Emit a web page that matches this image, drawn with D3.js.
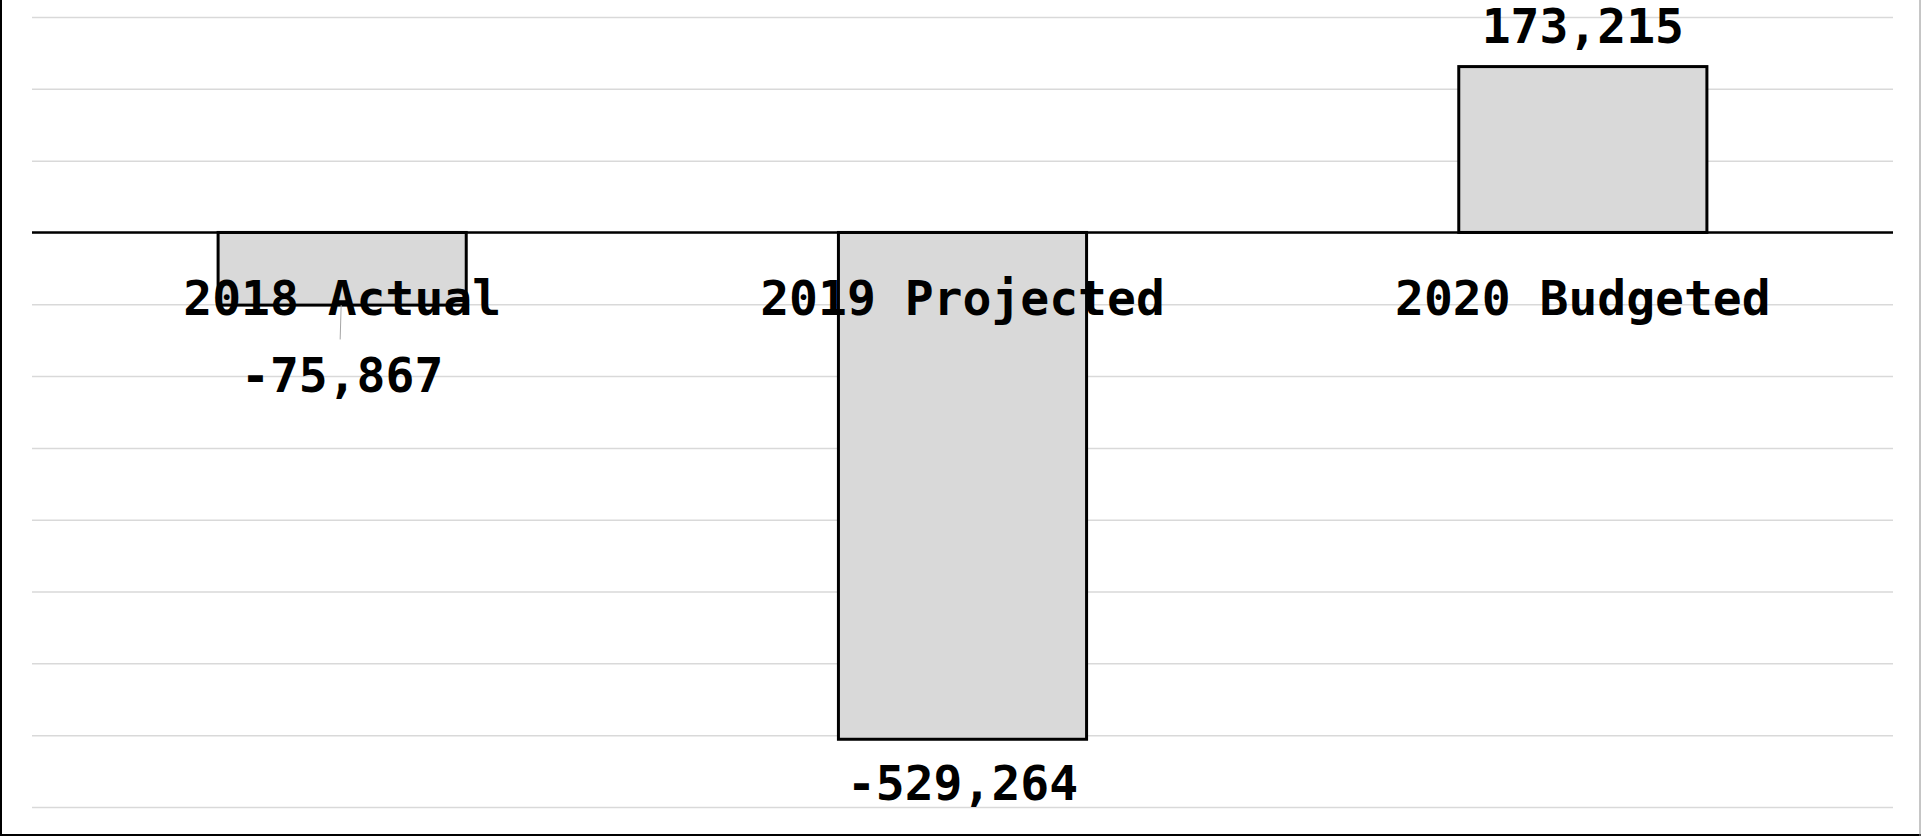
<!DOCTYPE html>
<html>
<head>
<meta charset="utf-8">
<script src="https://cdn.jsdelivr.net/npm/d3@7"></script>
<style>
    html, body { margin: 0; padding: 0; background: #fff; overflow: hidden; }
    svg { display: block; }
    .bar-label, .cat-label { font-family: "DejaVu Sans Mono", monospace; font-weight: bold; font-size: 48px; fill: #000; }
</style>
</head>
<body>
<svg id="chart"></svg>
<script>
const categories = ["2018 Actual", "2019 Projected", "2020 Budgeted"];
const values = [-75867, -529264, 173215];
const gridTicks = [225000, 150000, 75000, 0, -75000, -150000, -225000, -300000, -375000, -450000, -525000, -600000];

const width = 1921;
const height = 836;
const plot = { left: 32, right: 1893, top: 17, bottom: 807 };

const svg = d3.select("#chart")
    .attr("width", width)
    .attr("height", height);

const x = d3.scaleBand()
    .domain(categories)
    .range([plot.left, plot.right])
    .paddingInner(0.6)
    .paddingOuter(0.3);

const y = d3.scaleLinear()
    .domain([d3.min(gridTicks), d3.max(gridTicks)])
    .range([plot.bottom, plot.top]);

// gridlines
const grid = svg.append("g")
    .attr("transform", `translate(${plot.left},0)`)
    .call(d3.axisLeft(y).tickValues(gridTicks).tickSize(-(plot.right - plot.left)).tickFormat(""));
grid.select(".domain").remove();
grid.selectAll(".tick line").attr("stroke", "#d9d9d9").attr("stroke-width", 1.5);

// bars
svg.selectAll("rect.bar")
    .data(values)
    .enter()
    .append("rect")
    .attr("class", "bar")
    .attr("x", (d, i) => x(categories[i]))
    .attr("y", (d) => y(Math.max(0, d)))
    .attr("width", x.bandwidth())
    .attr("height", (d) => Math.abs(y(d) - y(0)))
    .attr("fill", "#d9d9d9")
    .attr("stroke", "#000")
    .attr("stroke-width", 3);

// zero axis with category labels
const xAxis = svg.append("g")
    .attr("transform", `translate(0,${y(0)})`)
    .call(d3.axisBottom(x).tickSize(0).tickPadding(48));
xAxis.select(".domain").remove();
xAxis.selectAll(".tick text")
    .attr("class", "cat-label")
    .attr("font-size", null)
    .attr("font-family", null);

svg.append("line")
    .attr("x1", plot.left)
    .attr("x2", plot.right)
    .attr("y1", y(0))
    .attr("y2", y(0))
    .attr("stroke", "#000")
    .attr("stroke-width", 2.5);

// data labels (plain hyphen for negatives, like the source)
const fmt = d3.formatLocale({ decimal: ".", thousands: ",", grouping: [3], currency: ["", ""], minus: "-" }).format(",");
const catBaseline = y(0) + 82;
values.forEach((d, i) => {
    const cx = x(categories[i]) + x.bandwidth() / 2;
    let base;
    if (d >= 0) {
        base = y(d) - 24;
    } else {
        base = y(d) + 61;
        if (base < catBaseline + 78) {
            base = catBaseline + 78;
            // leader line from bar end to label
            svg.append("line")
                .attr("x1", cx - 1)
                .attr("x2", cx - 2)
                .attr("y1", y(d))
                .attr("y2", base - 53)
                .attr("stroke", "#a6a6a6")
                .attr("stroke-width", 1);
        }
    }
    svg.append("text")
        .attr("class", "bar-label")
        .attr("x", cx)
        .attr("y", base)
        .attr("text-anchor", "middle")
        .text(fmt(d));
});

// chart frame
svg.append("line").attr("x1", 1).attr("x2", 1).attr("y1", 0).attr("y2", 835).attr("stroke", "#000").attr("stroke-width", 2);
svg.append("line").attr("x1", 0).attr("x2", 1921).attr("y1", 835).attr("y2", 835).attr("stroke", "#000").attr("stroke-width", 2);
svg.append("line").attr("x1", 1920).attr("x2", 1920).attr("y1", 0).attr("y2", 836).attr("stroke", "#8c8c8c").attr("stroke-width", 1);
</script>
</body>
</html>
